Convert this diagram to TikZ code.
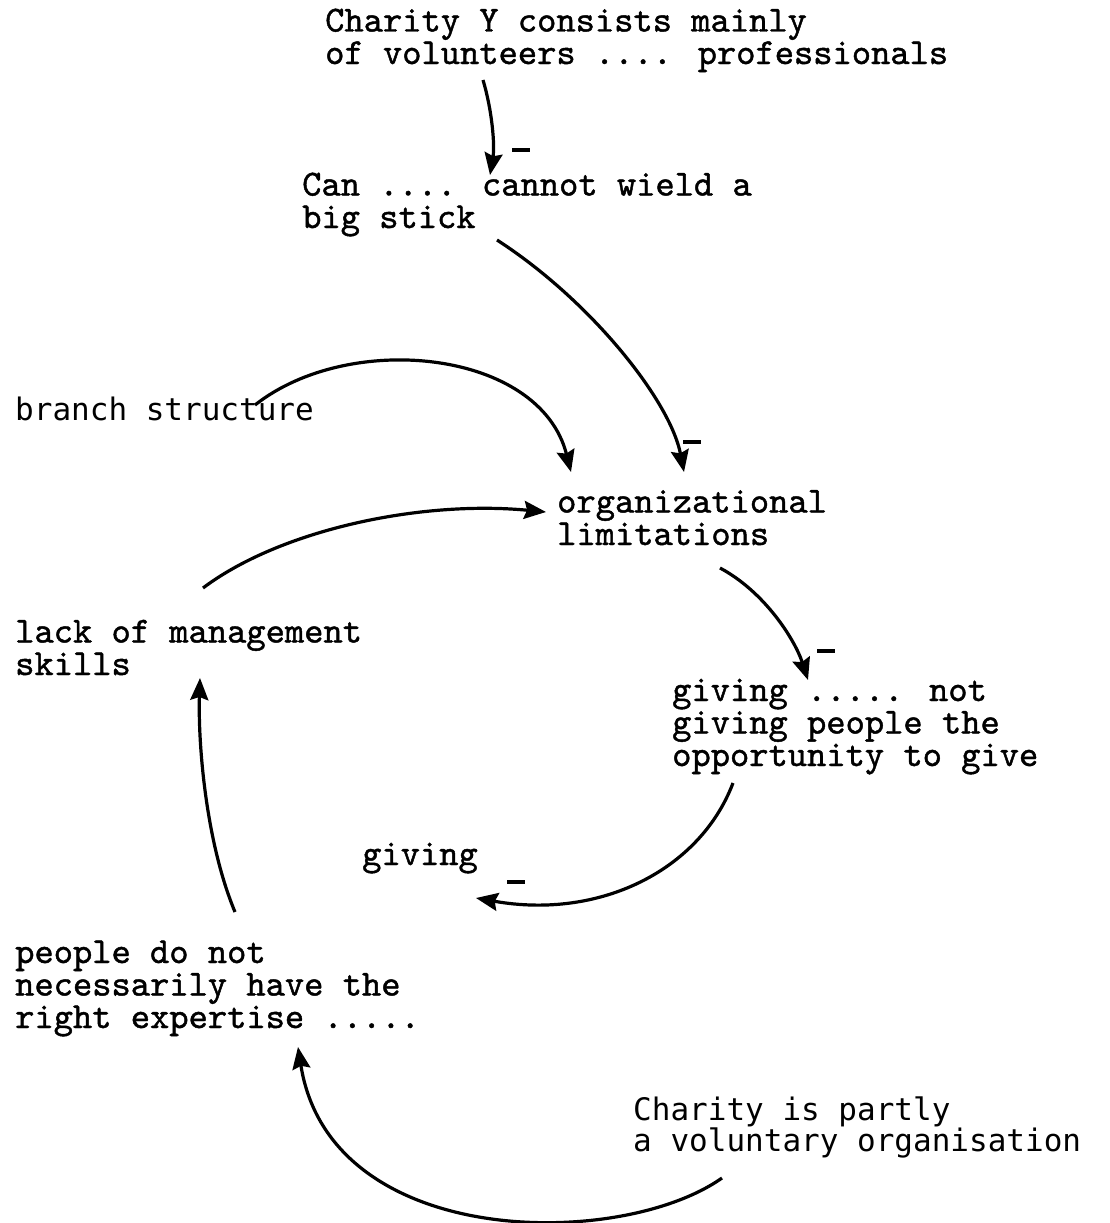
\documentclass[tikz,border=0pt]{standalone}
\usepackage{fontspec}
\usetikzlibrary{arrows.meta,calc}
\newfontfamily\typer{lmmono10-regular}[Extension=.otf,FakeBold=1.2]
\newfontfamily\gothic{DejaVu Sans Mono}
\begin{document}
\begin{tikzpicture}[x=1pt,y=-1pt,
  txt/.style={anchor=base west,inner sep=0pt,align=left,
    font=\typer\fontsize{36.7}{32.5}\selectfont},
  gtxt/.style={anchor=base west,inner sep=0pt,align=left,
    font=\gothic\fontsize{31}{31}\selectfont},
  link/.style={line width=3.2pt,-{Stealth[length=22pt,width=18pt,inset=3pt]}},
  minus/.style={fill=black,inner sep=0pt,minimum width=18pt,minimum height=3.5pt}]
\useasboundingbox (0,0) rectangle (1110,1223);

% concepts (each placed at the baseline of its last line)
\node[txt]  (top)    at (325,64)   {Charity Y consists mainly\\of volunteers .... professionals};
\node[txt]  (can)    at (302,228)  {Can .... cannot wield a\\big stick};
\node[gtxt] (branch) at (15,420)   {branch structure};
\node[txt]  (org)    at (557,545)  {organizational\\limitations};
\node[txt]  (lack)   at (15,675)   {lack of management\\skills};
\node[txt]  (givnot) at (672,766)  {giving ..... not\\giving people the\\opportunity to give};
\node[txt]  (giving) at (362,865)  {giving};
\node[txt]  (people) at (15,1028)  {people do not\\necessarily have the\\right expertise .....};
\node[gtxt] (partly) at (633,1151) {Charity is partly\\a voluntary organisation};

% causal links
\draw[link] ([shift={(158,16)}]top.base west)
  .. controls (492,110) and (495,145) .. ([shift={(188,-53)}]can.base west);
\draw[link] ([shift={(195,12)}]can.base west)
  .. controls (590,300) and (670,400) .. ([shift={(127,-73)}]org.base west);
\draw[link] ([shift={(240,-15)}]branch.base west)
  .. controls (350,330) and (540,350) .. ([shift={(14,-73)}]org.base west);
\draw[link] ([shift={(188,-87)}]lack.base west)
  .. controls (280,530) and (420,500) .. ([shift={(-11,-33)}]org.base west);
\draw[link] ([shift={(163,23)}]org.base west)
  .. controls (765,592) and (795,640) .. ([shift={(136,-86)}]givnot.base west);
\draw[link] ([shift={(61,17)}]givnot.base west)
  .. controls (700,870) and (600,920) .. ([shift={(114,33)}]giving.base west);
\draw[link] ([shift={(220,-116)}]people.base west)
  .. controls (205,840) and (198,740) .. ([shift={(185,3)}]lack.base west);
\draw[link] ([shift={(89,27)}]partly.base west)
  .. controls (620,1250) and (330,1250) .. ([shift={(283,19)}]people.base west);

% negative signs
\node[minus] (m1) at (521,150) {};
\node[minus] (m2) at (692,442) {};
\node[minus] (m3) at (826,651) {};
\node[minus] (m4) at (516,882) {};
\end{tikzpicture}
\end{document}
